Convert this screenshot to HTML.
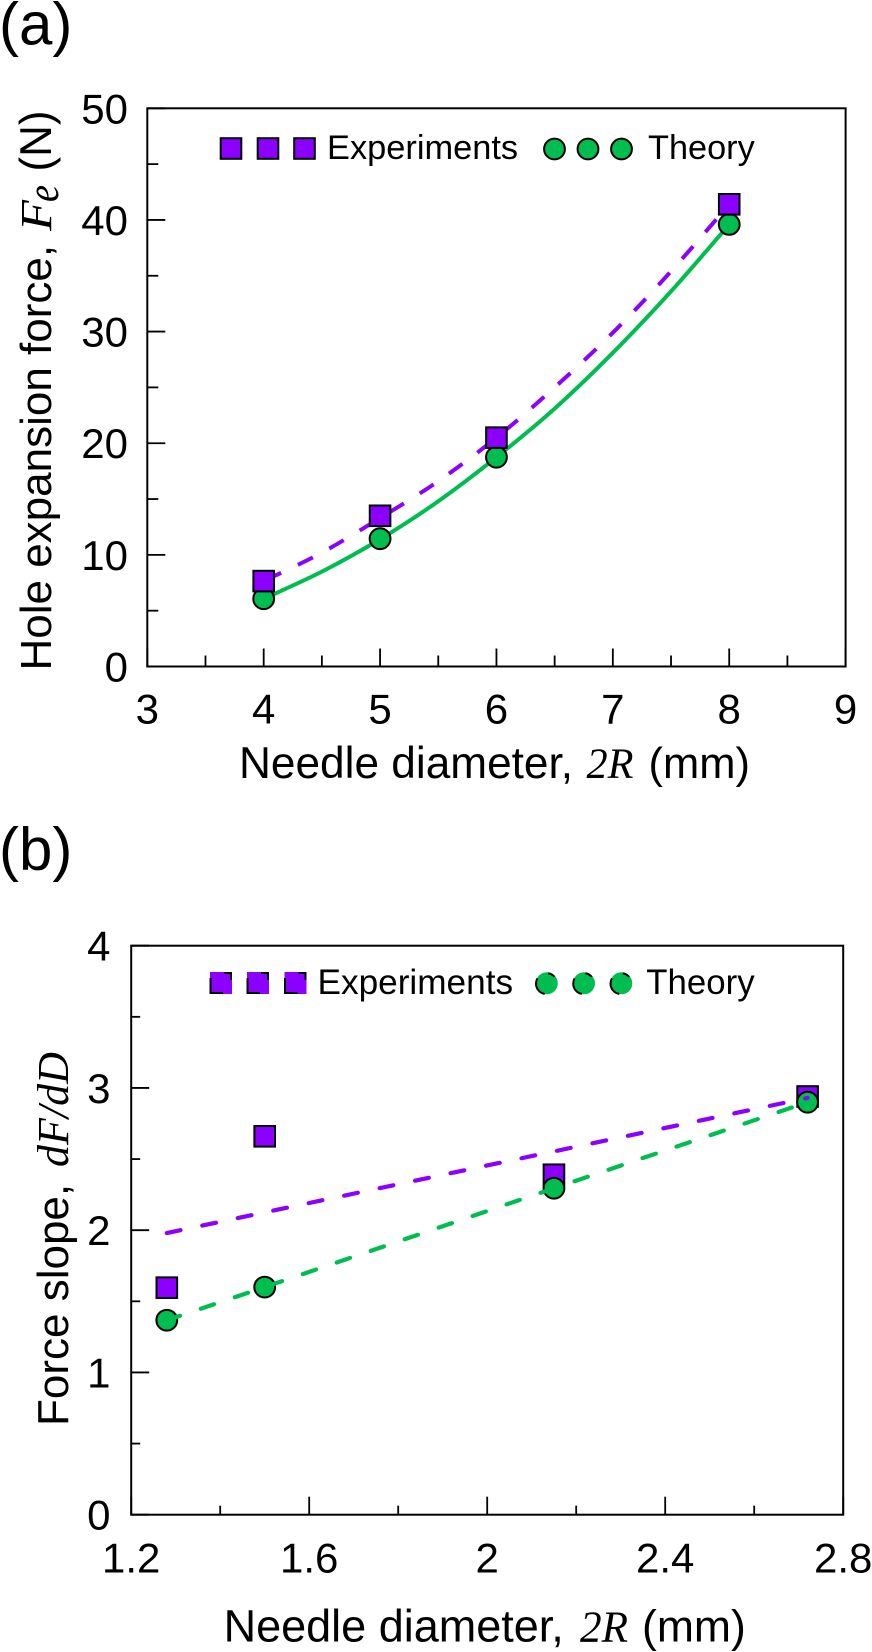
<!DOCTYPE html>
<html lang="en">
<head>
<meta charset="utf-8">
<title>Hole expansion force and force slope vs needle diameter</title>
<style>
  html, body { margin: 0; padding: 0; background: #fff; }
  svg { display: block; }
  text { font-family: "Liberation Sans", Arial, sans-serif; fill: #000; }
  .ital { font-family: "Liberation Serif", "Times New Roman", serif; font-style: italic; }
</style>
</head>
<body>
<svg id="figure" xmlns="http://www.w3.org/2000/svg" width="872" height="1652" viewBox="0 0 872 1652">
  <g id="panel-a">
    <text x="-1" y="44.5" font-size="60">(a)</text>
    <g>
      <text transform="translate(51 670.5) rotate(-90)" font-size="44">Hole expansion force,</text>
      <text class="ital" transform="translate(51 231) rotate(-90)" font-size="44" textLength="31" lengthAdjust="spacingAndGlyphs">F</text>
      <text class="ital" transform="translate(58 202) rotate(-90)" font-size="46" textLength="17" lengthAdjust="spacingAndGlyphs">e</text>
      <text transform="translate(51 171.5) rotate(-90)" font-size="44.5" textLength="61" lengthAdjust="spacingAndGlyphs">(N)</text>
    </g>
    <g>
      <text x="239" y="778" font-size="44.2">Needle diameter,</text>
      <text class="ital" x="586.5" y="778" font-size="43" textLength="47" lengthAdjust="spacingAndGlyphs">2R</text>
      <text x="648.5" y="778" font-size="43.5">(mm)</text>
    </g>
    <text x="327" y="159" font-size="34.4">Experiments</text>
    <text x="648" y="159" font-size="34.3">Theory</text>
  </g>
  <g id="panel-b">
    <text x="-1" y="869.5" font-size="60">(b)</text>
    <g>
      <text transform="translate(68 1426) rotate(-90)" font-size="44">Force slope,</text>
      <text class="ital" transform="translate(68 1167) rotate(-90)" font-size="44">dF/dD</text>
    </g>
    <g>
      <text x="223.6" y="1641.5" font-size="45">Needle diameter,</text>
      <text class="ital" x="580" y="1641.5" font-size="44" textLength="48" lengthAdjust="spacingAndGlyphs">2R</text>
      <text x="642" y="1641.5" font-size="44.5">(mm)</text>
    </g>
    <text x="317.5" y="994" font-size="35.2">Experiments</text>
    <text x="646.3" y="994" font-size="34.8">Theory</text>
  </g>
</svg>
<script>
// Panel (a) data
const aDiameters = [4, 5, 6, 8];
const aExperiments = [7.65, 13.5, 20.5, 41.4];
const aTheory = [6.07, 11.45, 18.75, 39.6];
const aCurveDiameters = [4, 4.5, 5, 5.5, 6, 6.5, 7, 7.5, 8];
const aExperimentCurve = [7.65, 10.2, 13.3, 16.6, 20.5, 25, 29.9, 35.4, 41.4];
const aTheoryCurve = [6.07, 8.5, 11.4, 14.8, 18.75, 23.1, 28.1, 33.6, 39.6];
const aXTicks = [3, 4, 5, 6, 7, 8, 9];
const aXMinorTicks = [3.5, 4.5, 5.5, 6.5, 7.5, 8.5];
const aYTicks = [0, 10, 20, 30, 40, 50];
const aYMinorTicks = [5, 15, 25, 35, 45];

// Panel (b) data
const bDiameters = [1.28, 1.5, 2.15, 2.72];
const bExperiments = [1.596, 2.66, 2.39, 2.94];
const bTheory = [1.367, 1.6, 2.295, 2.9];
const bExperimentLineX = [1.28, 2.72];
const bExperimentLineY = [1.98, 2.93];
const bXTicks = ['1.2', '1.6', '2', '2.4', '2.8'];
const bXMinorTicks = [1.4, 1.8, 2.2, 2.6];
const bYTicks = [0, 1, 2, 3, 4];
const bYMinorTicks = [0.5, 1.5, 2.5, 3.5];

const PURPLE = '#8b00ff';
const GREEN = '#00bd50';
const NS = 'http://www.w3.org/2000/svg';

function make(tag, attrs, parent) {
  const node = document.createElementNS(NS, tag);
  for (const key in attrs) node.setAttribute(key, attrs[key]);
  parent.appendChild(node);
  return node;
}

function linearScale(d0, d1, r0, r1) {
  return function (v) { return r0 + (v - d0) * (r1 - r0) / (d1 - d0); };
}

function smoothPath(px, py) {
  let d = 'M' + px[0] + ' ' + py[0];
  for (let i = 0; i < px.length - 1; i++) {
    const x0 = px[Math.max(i - 1, 0)], y0 = py[Math.max(i - 1, 0)];
    const x3 = px[Math.min(i + 2, px.length - 1)], y3 = py[Math.min(i + 2, px.length - 1)];
    const c1x = px[i] + (px[i + 1] - x0) / 6, c1y = py[i] + (py[i + 1] - y0) / 6;
    const c2x = px[i + 1] - (x3 - px[i]) / 6, c2y = py[i + 1] - (y3 - py[i]) / 6;
    d += 'C' + c1x + ' ' + c1y + ' ' + c2x + ' ' + c2y + ' ' + px[i + 1] + ' ' + py[i + 1];
  }
  return d;
}

function drawFrame(group, box, sx, sy, xTicks, xMinor, yTicks, yMinor, minorLen, yLabelRight, xLabelBase) {
  const frame = make('rect', { x: box.l, y: box.t, width: box.r - box.l, height: box.b - box.t, fill: 'none', stroke: '#000', 'stroke-width': 2 }, group);
  
  
  xTicks.forEach(function (label) {
    const x = sx(Number(label));
    const tick = make('line', { x1: x, x2: x, y1: box.b, y2: box.b - 18, stroke: '#000', 'stroke-width': 1.8 }, group);
    
    
    const text = make('text', { x: x, y: xLabelBase, 'font-size': 42, 'text-anchor': 'middle' }, group);
    text.textContent = label;
    
    
  });
  xMinor.forEach(function (value) {
    const x = sx(value);
    const tick = make('line', { x1: x, x2: x, y1: box.b, y2: box.b - minorLen, stroke: '#000', 'stroke-width': 1.8 }, group);
    
    
  });
  yTicks.forEach(function (label) {
    const y = sy(Number(label));
    const tick = make('line', { x1: box.l, x2: box.l + 18, y1: y, y2: y, stroke: '#000', 'stroke-width': 1.8 }, group);
    
    
    const text = make('text', { x: yLabelRight, y: y + 15, 'font-size': 42, 'text-anchor': 'end' }, group);
    text.textContent = label;
    
    
  });
  yMinor.forEach(function (value) {
    const y = sy(value);
    const tick = make('line', { x1: box.l, x2: box.l + minorLen, y1: y, y2: y, stroke: '#000', 'stroke-width': 1.8 }, group);
    
    
  });
}

function drawSquare(group, cx, cy) {
  const mark = make('rect', { x: cx - 10.3, y: cy - 10.3, width: 20.6, height: 20.6, fill: PURPLE, stroke: '#000', 'stroke-width': 2 }, group);
  
  
}

function drawCircle(group, cx, cy) {
  const mark = make('circle', { cx: cx, cy: cy, r: 10.4, fill: GREEN, stroke: '#000', 'stroke-width': 2 }, group);
  
  
}

// Panel (a)
const aBox = { l: 147.3, r: 845.6, t: 108.3, b: 666.5 };
const aX = linearScale(3, 9, aBox.l, aBox.r);
const aY = linearScale(0, 50, aBox.b, aBox.t);
const panelA = document.getElementById('panel-a');
drawFrame(panelA, aBox, aX, aY, aXTicks.map(String), aXMinorTicks, aYTicks.map(String), aYMinorTicks, 11, 128, 723.3);

const aExpCurve = make('path', { d: smoothPath(aCurveDiameters.map(aX), aExperimentCurve.map(aY)), fill: 'none', stroke: PURPLE, 'stroke-width': 4, 'stroke-dasharray': '16.6 18.7', 'stroke-dashoffset': -2.7 }, panelA);


const aTheCurve = make('path', { d: smoothPath(aCurveDiameters.map(aX), aTheoryCurve.map(aY)), fill: 'none', stroke: GREEN, 'stroke-width': 4 }, panelA);


aDiameters.forEach(function (d, i) { drawCircle(panelA, aX(d), aY(aTheory[i])); });
aDiameters.forEach(function (d, i) { drawSquare(panelA, aX(d), aY(aExperiments[i])); });

// Panel (a) legend (fixed layout glyphs)
[231, 268, 304.5].forEach(function (cx) { drawSquare(panelA, cx, 148.5); });
[554.5, 588, 621.5].forEach(function (cx) { drawCircle(panelA, cx, 149); });

// Panel (b)
const bBox = { l: 131.2, r: 843.2, t: 945.7, b: 1514.7 };
const bX = linearScale(1.2, 2.8, bBox.l, bBox.r);
const bY = linearScale(0, 4, bBox.b, bBox.t);
const panelB = document.getElementById('panel-b');
drawFrame(panelB, bBox, bX, bY, bXTicks, bXMinorTicks, bYTicks.map(String), bYMinorTicks, 9, 110.5, 1572.3);

bDiameters.forEach(function (d, i) { drawSquare(panelB, bX(d), bY(bExperiments[i])); });
bDiameters.forEach(function (d, i) { drawCircle(panelB, bX(d), bY(bTheory[i])); });

const bTheoryLine = make('polyline', { points: bDiameters.map(function (d, i) { return bX(d) + ',' + bY(bTheory[i]); }).join(' '), fill: 'none', stroke: GREEN, 'stroke-width': 4.2, 'stroke-linecap': 'round', 'stroke-dasharray': '14 21.9' }, panelB);


const bExpLine = make('polyline', { points: bExperimentLineX.map(function (d, i) { return bX(d) + ',' + bY(bExperimentLineY[i]); }).join(' '), fill: 'none', stroke: PURPLE, 'stroke-width': 4.2, 'stroke-linecap': 'round', 'stroke-dasharray': '14 22.25' }, panelB);



// Panel (b) legend: fill is offset against a broken black outline
[221, 258, 295.5].forEach(function (cx) {
  const cy = 983;
  const fill = make('rect', { x: cx - 11, y: cy - 11, width: 22, height: 22, fill: PURPLE }, panelB);
  
  
  const edge = make('path', { d: 'M' + (cx - 10.5) + ' ' + (cy - 5) + 'V' + (cy + 10) + 'H' + (cx + 2) + 'M' + (cx + 3) + ' ' + (cy - 10) + 'H' + (cx + 10) + 'V' + (cy - 3), fill: 'none', stroke: '#000', 'stroke-width': 2 }, panelB);
  
  
});
[546.8, 584, 621.3].forEach(function (cx) {
  const cy = 983.3;
  const fill = make('circle', { cx: cx, cy: cy, r: 11, fill: GREEN }, panelB);
  
  
  const edge = make('circle', { cx: cx - 0.3, cy: cy + 0.3, r: 10.5, fill: 'none', stroke: '#000', 'stroke-width': 2, pathLength: 360, 'stroke-dasharray': '0 100 110 70 40 40' }, panelB);
  
  
});
</script>
</body>
</html>
